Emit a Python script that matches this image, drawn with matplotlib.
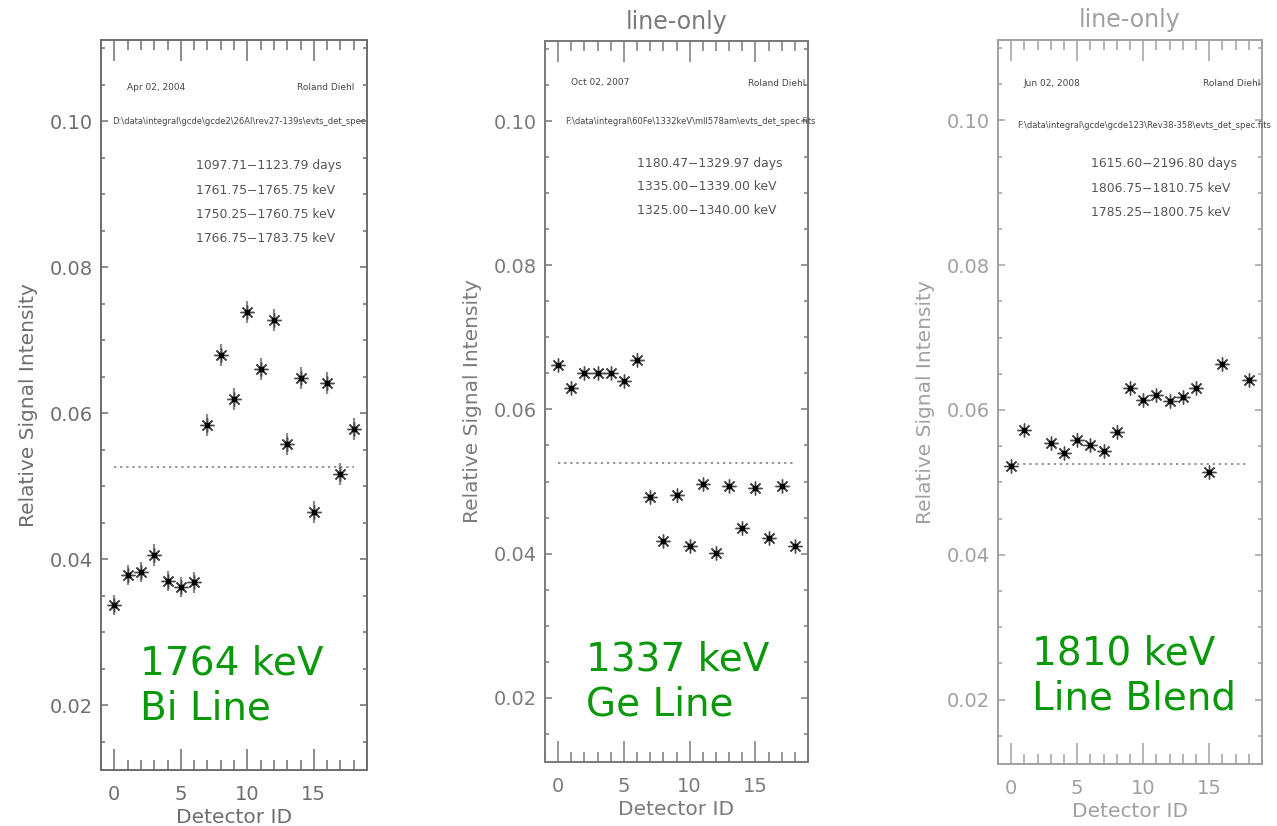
import numpy as np
import matplotlib.pyplot as plt
from matplotlib.ticker import MultipleLocator

W, H = 1277, 826

detector = np.arange(19)

# relative signal per detector (sums to ~1 over the 19 detectors)
bi_signal = [0.0337, 0.0378, 0.0382, 0.0406, 0.0370, 0.0362, 0.0368, 0.0584, 0.0679, 0.0619,
             0.0739, 0.0660, 0.0727, 0.0558, 0.0648, 0.0465, 0.0641, 0.0516, 0.0578]
bi_error = [0.0014, 0.0014, 0.0014, 0.0015, 0.0014, 0.0014, 0.0014, 0.0015, 0.0015, 0.0015,
            0.0015, 0.0015, 0.0015, 0.0015, 0.0015, 0.0015, 0.0015, 0.0015, 0.0015]
ge_signal = [0.0662, 0.0630, 0.0651, 0.0651, 0.0651, 0.0639, 0.0668, 0.0478, 0.0418, 0.0482,
             0.0411, 0.0496, 0.0401, 0.0494, 0.0435, 0.0491, 0.0421, 0.0494, 0.0410]
blend_signal = [0.0523, 0.0573, np.nan, 0.0554, 0.0540, 0.0559, 0.0552, 0.0544, 0.0569, 0.0630,
                0.0614, 0.0620, 0.0613, 0.0618, 0.0630, 0.0514, 0.0664, np.nan, 0.0641]
mean_level = 0.0526

titles = ['', 'line-only', 'line-only']
dates = ['Apr 02, 2004', 'Oct 02, 2007', 'Jun 02, 2008']
author = 'Roland Diehl'
paths = [r'D:\data\integral\gcde\gcde2\26Al\rev27-139s\evts_det_spec.fits',
         r'F:\data\integral\60Fe\1332keV\mll578am\evts_det_spec.fits',
         r'F:\data\integral\gcde\gcde123\Rev38-358\evts_det_spec.fits']
ranges = [['1097.71\u22121123.79 days', '1761.75\u22121765.75 keV',
           '1750.25\u22121760.75 keV', '1766.75\u22121783.75 keV'],
          ['1180.47\u22121329.97 days', '1335.00\u22121339.00 keV',
           '1325.00\u22121340.00 keV'],
          ['1615.60\u22122196.80 days', '1806.75\u22121810.75 keV',
           '1785.25\u22121800.75 keV']]
line_names = ['1764 keV\nBi Line', '1337 keV\nGe Line', '1810 keV\nLine Blend']
signals = [bi_signal, ge_signal, blend_signal]
errors = [bi_error, None, None]

# axes boxes in pixels: left, top, right, bottom
boxes = [(101, 40, 367, 770), (545, 41, 808, 762), (998, 40, 1262, 764)]
greys = ['#6e6e6e', '#7a7a7a', '#a0a0a0']
# text anchors in pixels
date_xy = [(127, 87), (571, 83), (1023, 84)]
author_xy = [(297, 87), (748, 83), (1203, 84)]
path_xy = [(112, 122), (565, 121), (1017, 125)]
range_xy = [(196, 166), (637, 163), (1091, 164)]
green_xy = [(140, 686), (586, 682), (1032, 676)]
clip_path = [True, False, False]

plt.rcParams['font.family'] = ['DejaVu Sans']

fig = plt.figure(figsize=(W / 100.0, H / 100.0), dpi=100)


def fx(px):
    return px / float(W)


def fy(py):
    return 1 - py / float(H)


for i in range(3):
    l, t, r, b = boxes[i]
    g = greys[i]
    ax = fig.add_axes([fx(l), fy(b), fx(r) - fx(l), fy(t) - fy(b)])

    if errors[i] is not None:
        ax.errorbar(detector, signals[i], yerr=errors[i], fmt='none', ecolor='#8c8c8c',
                    elinewidth=1.6, capsize=0, zorder=2)
    ax.plot(detector, signals[i], linestyle='none', marker=(8, 2, 0), markersize=10,
            markeredgewidth=1.0, markeredgecolor='#4a4a4a', zorder=3)
    ax.plot(detector, signals[i], linestyle='none', marker='s', markersize=2.2,
            color='black', zorder=4)
    ax.plot([detector[0], detector[-1]], [mean_level, mean_level], linestyle=(0, (1.5, 2.5)),
            color='#777777', linewidth=1.1, zorder=1)

    ax.set_xlim(-1, 19)
    ax.set_ylim(0.0111, 0.1111)
    ax.xaxis.set_major_locator(MultipleLocator(5))
    ax.xaxis.set_minor_locator(MultipleLocator(1))
    ax.yaxis.set_major_locator(MultipleLocator(0.02))
    ax.yaxis.set_minor_locator(MultipleLocator(0.005))
    ax.yaxis.set_major_formatter(plt.FormatStrFormatter('%.2f'))
    ax.tick_params(which='both', direction='in', top=True, right=True, color=g,
                   labelcolor=g, labelsize=14, width=1.1)
    ax.tick_params(axis='x', which='major', length=15, pad=11)
    ax.tick_params(axis='x', which='minor', length=7)
    ax.tick_params(axis='y', which='major', length=5, pad=6)
    ax.tick_params(axis='y', which='minor', length=3)
    for s in ax.spines.values():
        s.set_color(g)
        s.set_linewidth(1.4)

    ax.set_xlabel('Detector ID', fontsize=14.5, color=g, labelpad=3)
    ax.set_ylabel('Relative Signal Intensity', fontsize=14.5, color=g, labelpad=8)
    if titles[i]:
        ax.set_title(titles[i], fontsize=17, color=g, pad=9)

    small = '#444444'
    ax.text(fx(date_xy[i][0]), fy(date_xy[i][1]), dates[i], transform=fig.transFigure,
            fontsize=6.5, color=small, va='center', clip_on=True)
    ax.text(fx(author_xy[i][0]), fy(author_xy[i][1]), author, transform=fig.transFigure,
            fontsize=6.5, color=small, va='center', clip_on=True)
    ax.text(fx(path_xy[i][0]), fy(path_xy[i][1]), paths[i], transform=fig.transFigure,
            fontsize=6.0, color=small, va='center', clip_on=clip_path[i])
    for j, txt in enumerate(ranges[i]):
        ax.text(fx(range_xy[i][0]), fy(range_xy[i][1] + 24 * j), txt,
                transform=fig.transFigure, fontsize=8.9, color='#555555', va='center')

    ax.text(fx(green_xy[i][0]), fy(green_xy[i][1]), line_names[i], transform=fig.transFigure,
            fontsize=28, color='#0a990a', va='center', ha='left', linespacing=1.25)

fig.savefig('out.png', dpi=100)
